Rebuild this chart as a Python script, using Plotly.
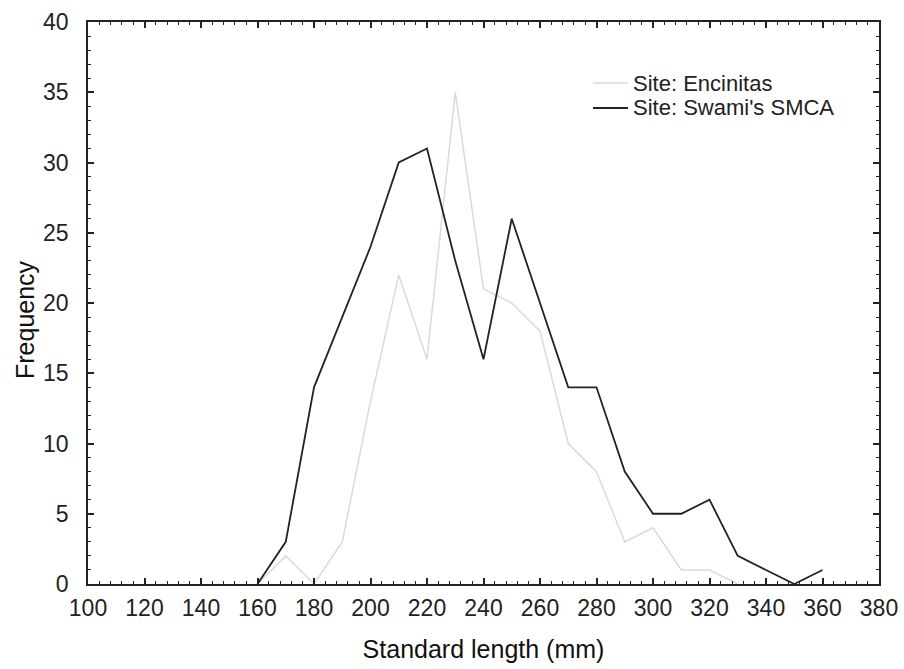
import plotly.graph_objects as go

# Standard length bins (mm)
lengths_encinitas = [160, 170, 180, 190, 200, 210, 220, 230, 240, 250, 260,
                     270, 280, 290, 300, 310, 320, 330]
freq_encinitas = [0, 2, 0, 3, 13, 22, 16, 35, 21, 20, 18,
                  10, 8, 3, 4, 1, 1, 0]

lengths_swamis = [160, 170, 180, 190, 200, 210, 220, 230, 240, 250, 260,
                  270, 280, 290, 300, 310, 320, 330, 340, 350, 360]
freq_swamis = [0, 3, 14, 19, 24, 30, 31, 23, 16, 26, 20,
               14, 14, 8, 5, 5, 6, 2, 1, 0, 1]

series_names = ["Site: Encinitas", "Site: Swami's SMCA"]
series_colors = ["#dadada", "#222222"]
series_widths = [1.5, 1.8]

font_family = "Liberation Sans, Arial, sans-serif"

fig = go.Figure()
for name, xs, ys, color, width in zip(
        series_names,
        [lengths_encinitas, lengths_swamis],
        [freq_encinitas, freq_swamis],
        series_colors, series_widths):
    fig.add_trace(go.Scatter(
        x=xs, y=ys, mode="lines", name=name,
        line=dict(color=color, width=width),
        showlegend=False,
    ))

# Legend drawn as short line samples with labels in the upper right
plot_l, plot_r, plot_t, plot_b = 88, 879, 22, 584
legend_rows_px = [83, 108]
for name, color, width, ypx in zip(series_names, series_colors, series_widths, legend_rows_px):
    yp = (plot_b - ypx) / (plot_b - plot_t)
    x0 = (593 - plot_l) / (plot_r - plot_l)
    x1 = (628 - plot_l) / (plot_r - plot_l)
    fig.add_shape(type="line", xref="paper", yref="paper",
                  x0=x0, x1=x1, y0=yp, y1=yp,
                  line=dict(color=color, width=width))
    fig.add_annotation(xref="paper", yref="paper", x=x1 + 0.004, y=yp,
                       xanchor="left", yanchor="middle", showarrow=False,
                       text=name,
                       font=dict(family=font_family, size=22, color="#222222"))

# Y-axis title placed slightly below the plot's vertical centre
fig.add_annotation(xref="paper", yref="paper", x=0, y=(plot_b - 320) / (plot_b - plot_t),
                   xshift=-(plot_l - 25), xanchor="center", yanchor="middle",
                   showarrow=False, textangle=-90, text="Frequency",
                   font=dict(family=font_family, size=25, color="#111111"))

axis_common = dict(
    showline=True, linecolor="#222222", linewidth=1.5, mirror="allticks",
    ticks="inside", ticklen=6, tickwidth=1.5, tickcolor="#222222",
    showgrid=False, zeroline=False, automargin=False,
    tickfont=dict(family=font_family, size=23, color="#222222"),
)

fig.update_xaxes(
    range=[100, 380], tick0=100, dtick=20,
    minor=dict(ticks="inside", ticklen=3, dtick=4, tickcolor="#222222", tickwidth=1),
    ticklabelstandoff=3,
    title=dict(text="Standard length (mm)", standoff=20,
               font=dict(family=font_family, size=25, color="#111111")),
    **axis_common,
)
fig.update_yaxes(
    range=[0, 40], tick0=0, dtick=5,
    minor=dict(ticks="inside", ticklen=3, dtick=1, tickcolor="#222222", tickwidth=1),
    ticklabelstandoff=13,
    **axis_common,
)

fig.update_layout(
    width=904, height=669,
    margin=dict(l=88, r=25, t=22, b=85),
    paper_bgcolor="white", plot_bgcolor="white",
)

fig.write_html("out.html")
